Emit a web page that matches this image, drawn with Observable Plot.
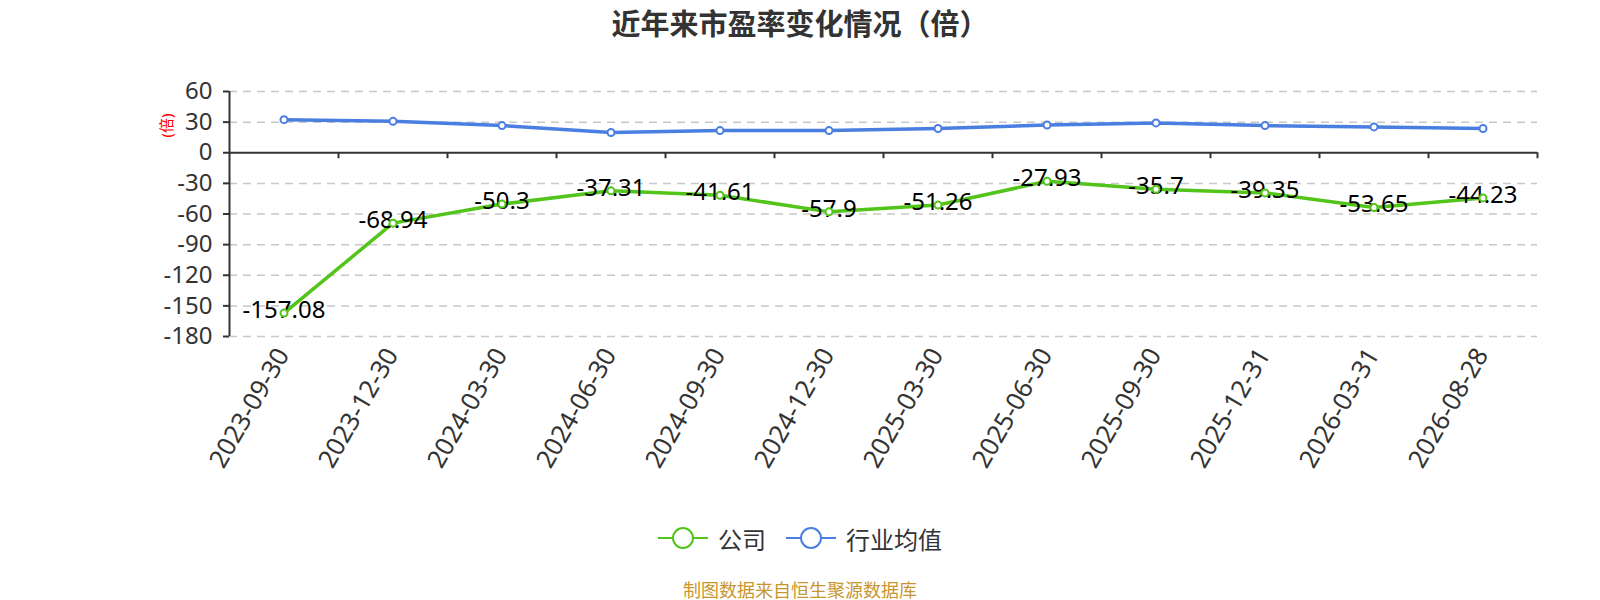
<!DOCTYPE html>
<html>
<head>
<meta charset="utf-8">
<script src="https://cdn.jsdelivr.net/npm/d3@7"></script>
<script src="https://cdn.jsdelivr.net/npm/@observablehq/plot@0.6"></script>
<style>
  body { margin: 0; background: #fff; width: 1600px; font-family: "Noto Sans CJK SC", "Noto Sans", sans-serif; }
  #title { height: 50px; line-height: 45px; text-align: center; font-size: 29px; font-weight: bold; color: #333; }
  #chart svg { display: block; }
  #legend { margin-top: 10px; height: 36px; display: flex; justify-content: center; align-items: center; font-size: 24px; color: #333; }
  #legend .item { display: flex; align-items: center; margin: 0 10px; }
  #legend svg { margin-right: 10px; }
  #caption { margin-top: 22px; height: 22px; line-height: 22px; text-align: center; font-size: 18px; color: #c8962e; }
</style>
</head>
<body>
<div id="title"></div>
<div id="chart"></div>
<div id="legend"></div>
<div id="caption"></div>
<script>
const titleText = "近年来市盈率变化情况（倍）";
const captionText = "制图数据来自恒生聚源数据库";
const yAxisName = "(倍)";
const dates = ["2023-09-30","2023-12-30","2024-03-30","2024-06-30","2024-09-30","2024-12-30","2025-03-30","2025-06-30","2025-09-30","2025-12-31","2026-03-31","2026-08-28"];
const companyPE = [-157.08, -68.94, -50.3, -37.31, -41.61, -57.9, -51.26, -27.93, -35.7, -39.35, -53.65, -44.23];
const industryPE = [32.4, 30.8, 26.6, 19.8, 21.7, 21.7, 23.7, 27.2, 29.2, 26.6, 25.3, 23.7];
const seriesNames = ["公司", "行业均值"];
const seriesColors = ["#52c41a", "#4a7ee0"];
const yTicks = [60, 30, 0, -30, -60, -90, -120, -150, -180];
const yDomain = [-180, 60];

document.getElementById("title").textContent = titleText;
document.getElementById("caption").textContent = captionText;

const idx = dates.map((d, i) => i);
const xDomain = [-0.5, dates.length - 0.5];
const boundaries = dates.map((d, i) => i + 0.5);
const company = companyPE.map((v, i) => ({i, v}));
const industry = industryPE.map((v, i) => ({i, v}));

const chart = Plot.plot({
  width: 1600,
  height: 460,
  marginLeft: 229,
  marginRight: 63,
  marginTop: 41,
  marginBottom: 174,
  style: {fontFamily: '"Noto Sans", "Noto Sans CJK SC", sans-serif', background: "#fff"},
  x: {type: "linear", domain: xDomain, axis: null},
  y: {type: "linear", domain: yDomain, axis: null},
  marks: [
    Plot.gridY(yTicks.filter(d => d !== 0), {stroke: "#c8c8c8", strokeOpacity: 1, strokeWidth: 1.5, strokeDasharray: "8,6"}),
    Plot.axisY(yTicks, {tickSize: 6, tickPadding: 11, fontSize: 24, fill: "#333", stroke: "#333", strokeWidth: 2, tickFormat: d => String(d), label: null}),
    Plot.ruleX([xDomain[0]], {y1: yDomain[0], y2: yDomain[1], stroke: "#333", strokeWidth: 2}),
    Plot.ruleY([0], {stroke: "#333", strokeWidth: 2}),
    Plot.ruleX(boundaries, {x: d => d, y1: 0, y2: 0, insetBottom: -6, stroke: "#333", strokeWidth: 2}),
    Plot.text(idx, {x: d => d, frameAnchor: "bottom", text: d => dates[d], rotate: -60, textAnchor: "end", dx: 6, dy: 18, fontSize: 25.5, fill: "#333"}),
    Plot.text([yAxisName], {x: xDomain[0], y: yDomain[1], text: d => d, rotate: -90, dx: -62, dy: 34, fill: "red", fontSize: 15}),
    Plot.line(industry, {x: "i", y: "v", stroke: seriesColors[1], strokeWidth: 3.5}),
    Plot.line(company, {x: "i", y: "v", stroke: seriesColors[0], strokeWidth: 3.5}),
    Plot.text(company, {x: "i", y: "v", text: d => String(d.v), fontSize: 24, fill: "#000", dy: -3}),
    Plot.dot(industry, {x: "i", y: "v", r: 3.5, fill: "#fff", stroke: seriesColors[1], strokeWidth: 2}),
    Plot.dot(company, {x: "i", y: "v", r: 3.5, fill: "#fff", stroke: seriesColors[0], strokeWidth: 2})
  ]
});
document.getElementById("chart").appendChild(chart);

const legend = document.getElementById("legend");
seriesNames.forEach((name, k) => {
  const item = document.createElement("div");
  item.className = "item";
  item.innerHTML = `<svg width="50" height="24"><line x1="0" y1="12" x2="50" y2="12" stroke="${seriesColors[k]}" stroke-width="2"/><circle cx="25" cy="12" r="10" fill="#fff" stroke="${seriesColors[k]}" stroke-width="2"/></svg><span>${name}</span>`;
  legend.appendChild(item);
});
</script>
</body>
</html>
